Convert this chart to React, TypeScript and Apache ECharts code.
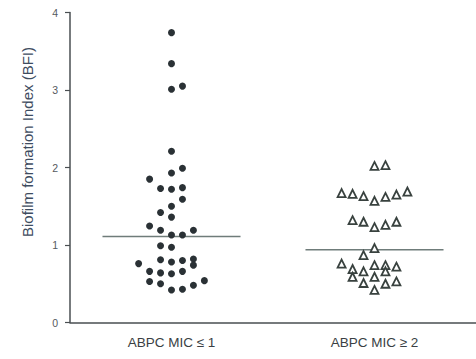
import React, { useEffect, useRef } from "react";
import * as echarts from "echarts";

// Groups on the x axis
const categories = ["ABPC MIC \u2264 1", "ABPC MIC \u2265 2"];

// Biofilm formation index per isolate, ABPC MIC <= 1 (filled dots)
const lowMicBfi = [
  3.74, 3.34, 3.01, 3.05, 2.21, 1.99, 1.93, 1.85, 1.73, 1.72, 1.74, 1.59, 1.5,
  1.42, 1.36, 1.245, 1.19, 1.13, 1.13, 1.19, 0.99, 0.97, 0.81, 0.78, 0.8, 0.82,
  0.74, 0.76, 0.66, 0.64, 0.63, 0.66, 0.53, 0.5, 0.42, 0.43, 0.48, 0.54,
];
// Swarm column of each dot (0 = centre of the group)
const lowMicColumn = [
  0, 0, 0, 1, 0, 1, 0, -2, -1, 0, 1, 1, 0, -1, 0, -2, -1, 0, 1, 2, -1, 0, -1, 0,
  1, 2, 2, -3, -2, -1, 0, 1, -2, -1, 0, 1, 2, 3,
];

// Biofilm formation index per isolate, ABPC MIC >= 2 (open triangles)
const highMicBfi = [
  2.02, 2.03, 1.67, 1.66, 1.63, 1.57, 1.62, 1.65, 1.69, 1.32, 1.3, 1.23, 1.26,
  1.3, 0.96, 0.87, 0.76, 0.74, 0.74, 0.72, 0.69, 0.66, 0.66, 0.59, 0.59, 0.51,
  0.53, 0.5, 0.42,
];
const highMicColumn = [
  0, 1, -3, -2, -1, 0, 1, 2, 3, -2, -1, 0, 1, 2, 0, -1, -3, 0, 1, 2, -2, -1, 1,
  -2, 0, -1, 2, 1, 0,
];

// Median BFI of each group
const medianBfi = [1.11, 0.94];

// Y axis range
const yMin = 0;
const yMax = 4;
const yStep = 1;

const COLUMN_STEP = 0.054;
const MEDIAN_HALF_WIDTH = 0.34;

export default function App() {
  const ref = useRef<HTMLDivElement>(null);

  useEffect(() => {
    if (!ref.current) return;
    const chart = echarts.init(ref.current, null, { renderer: "svg" });

    const toPoints = (values: number[], cols: number[], group: number) =>
      values.map((v, i) => [group + cols[i] * COLUMN_STEP, v]);

    const medianSeries = medianBfi.map((m, i) => ({
      type: "line",
      xAxisIndex: 1,
      yAxisIndex: 0,
      data: [
        [i - MEDIAN_HALF_WIDTH, m],
        [i + MEDIAN_HALF_WIDTH, m],
      ],
      symbol: "none",
      silent: true,
      lineStyle: { color: "#6f7c7a", width: 1.5 },
      z: 1,
    }));

    chart.setOption({
      animation: false,
      backgroundColor: "#ffffff",
      grid: { left: 70, right: 0, top: 12.5, bottom: 36.5, containLabel: false },
      xAxis: [
        {
          type: "category",
          data: categories,
          boundaryGap: true,
          axisLine: { onZero: false, lineStyle: { color: "#4a4f52", width: 1.5 } },
          axisTick: {
            alignWithLabel: true,
            length: 4,
            lineStyle: { color: "#4a4f52", width: 1.2 },
          },
          axisLabel: {
            color: "#3a3f44",
            fontSize: 13.5,
            fontFamily: "Liberation Sans, Arial, sans-serif",
            margin: 13,
          },
          splitLine: { show: false },
        },
        {
          type: "value",
          min: -0.5,
          max: 1.5,
          show: false,
        },
      ],
      yAxis: {
        type: "value",
        min: yMin,
        max: yMax,
        interval: yStep,
        axisLine: {
          show: true,
          onZero: false,
          lineStyle: { color: "#4a4f52", width: 1.5 },
        },
        axisTick: {
          show: true,
          length: 5,
          lineStyle: { color: "#4a4f52", width: 1.2 },
        },
        axisLabel: {
          color: "#555a5e",
          fontSize: 10.5,
          fontFamily: "Liberation Sans, Arial, sans-serif",
          margin: 12,
        },
        splitLine: { show: false },
      },
      graphic: [
        {
          type: "text",
          x: 27,
          y: 142,
          rotation: Math.PI / 2,
          style: {
            text: "Biofilm formation Index (BFI)",
            fill: "#3e4c60",
            font: "15px 'Liberation Sans', Arial, sans-serif",
            textAlign: "center",
            textVerticalAlign: "middle",
          },
        },
      ],
      series: [
        ...medianSeries,
        {
          type: "scatter",
          xAxisIndex: 1,
          yAxisIndex: 0,
          data: toPoints(lowMicBfi, lowMicColumn, 0),
          symbol: "circle",
          symbolSize: 7,
          itemStyle: { color: "#2a3135", opacity: 1 },
          z: 3,
        },
        {
          type: "scatter",
          xAxisIndex: 1,
          yAxisIndex: 0,
          data: toPoints(highMicBfi, highMicColumn, 1),
          symbol: "triangle",
          symbolSize: 8,
          itemStyle: {
            color: "#ffffff",
            borderColor: "#39423f",
            borderWidth: 1.8,
            opacity: 1,
          },
          z: 3,
        },
      ],
    });

    return () => chart.dispose();
  }, []);

  return (
    <div
      ref={ref}
      style={{ position: "absolute", left: 0, top: 0, width: 476, height: 359 }}
    />
  );
}
